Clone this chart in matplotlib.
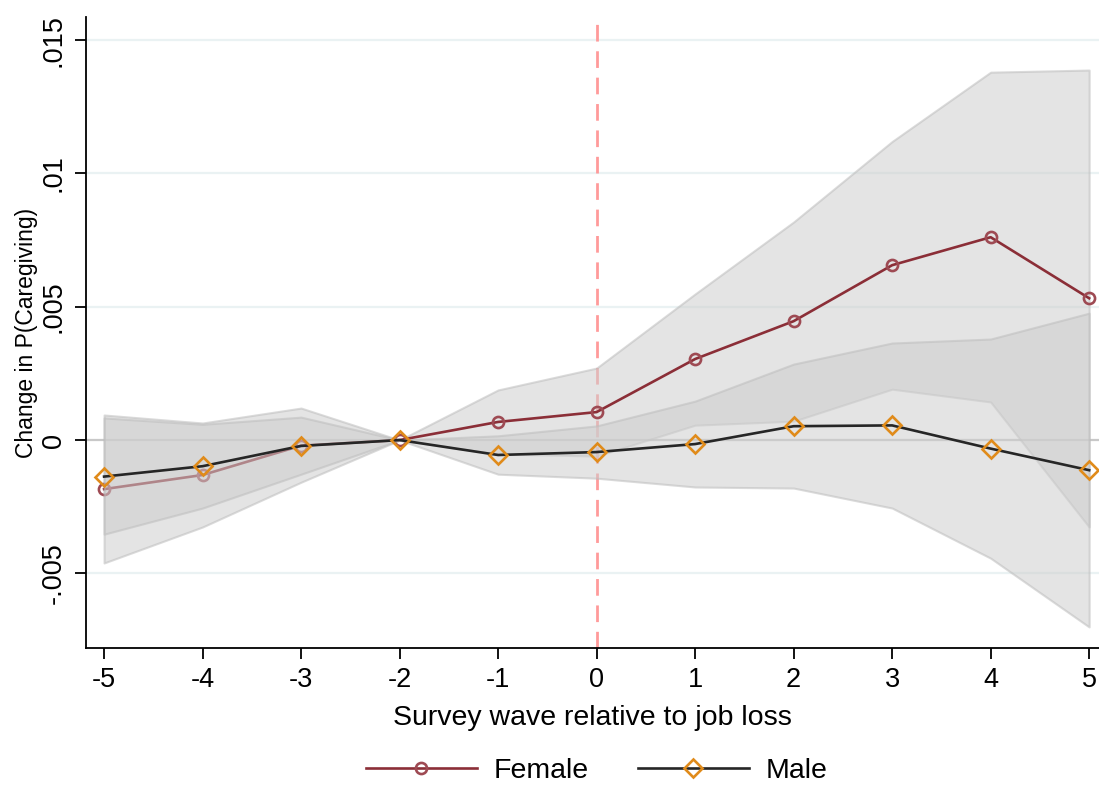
import matplotlib
matplotlib.use("Agg")
import matplotlib.pyplot as plt

plt.rcParams['font.family'] = ['Liberation Sans', 'DejaVu Sans']

# === Données ===
waves = [-5, -4, -3, -2, -1, 0, 1, 2, 3, 4, 5]

female = [-0.00184, -0.00131, -0.00021, 0.0, 0.00068, 0.00105, 0.00304, 0.00446, 0.00656, 0.00761, 0.00532]
female_lo = [-0.00461, -0.00326, -0.00158, 0.0, -0.00052, -0.00060, 0.00056, 0.00071, 0.00191, 0.00143, -0.00326]
female_hi = [0.00094, 0.00064, 0.00120, 0.0, 0.00188, 0.00270, 0.00548, 0.00818, 0.01120, 0.01380, 0.01388]

male = [-0.00137, -0.00098, -0.00022, 0.0, -0.00056, -0.00045, -0.00015, 0.00052, 0.00055, -0.00032, -0.00113]
male_lo = [-0.00353, -0.00255, -0.00128, 0.0, -0.00128, -0.00143, -0.00176, -0.00180, -0.00255, -0.00443, -0.00701]
male_hi = [0.00083, 0.00059, 0.00086, 0.0, 0.00016, 0.00053, 0.00146, 0.00285, 0.00364, 0.00379, 0.00476]

yticks = [-0.005, 0, 0.005, 0.01, 0.015]
ytick_labels = ["-.005", "0", ".005", ".01", ".015"]

# === Couleurs ===
C_FEMALE = "#8b2e37"
C_FEMALE_MK = "#9e4a53"
C_MALE = "#262626"
C_MALE_MK = "#e08b1a"
C_BAND = "#cecece"

fig = plt.figure(figsize=(10.99, 7.85), dpi=100)
ax = fig.add_axes([0.0783, 1 - 648 / 785, 0.9217, (648 - 17) / 785])

# grille horizontale + ligne zero + ligne verticale
for yv in yticks:
    if yv != 0:
        ax.axhline(yv, color="#eaf2f3", lw=1.6, zorder=0)
ax.axhline(0, color="#c8c8c8", lw=1.6, zorder=0.5)
ax.axvline(0, color="#ff9a9a", lw=2, ls=(0, (6, 3.5)), zorder=0.6)

# intervalles de confiance + lignes
ax.fill_between(waves, female_lo, female_hi, facecolor=C_BAND, alpha=0.55,
                edgecolor="#bdbdbd", lw=1.5, zorder=1)
ax.plot(waves, female, color=C_FEMALE, lw=1.9, marker="o", ms=8,
        mfc="none", mec=C_FEMALE_MK, mew=1.9, zorder=2, label="Female")
ax.fill_between(waves, male_lo, male_hi, facecolor=C_BAND, alpha=0.55,
                edgecolor="#bdbdbd", lw=1.5, zorder=3)
ax.plot(waves, male, color=C_MALE, lw=1.9, marker="D", ms=9,
        mfc="none", mec=C_MALE_MK, mew=1.9, zorder=4, label="Male")

ax.set_xlim(-5.183, 5.10)
ax.set_ylim(-0.0078, 0.01587)
ax.set_xticks(waves)
ax.set_xticklabels([str(w) for w in waves])
ax.set_yticks(yticks)
ax.set_yticklabels(ytick_labels, rotation=90, va="center")

ax.spines["top"].set_visible(False)
ax.spines["right"].set_visible(False)
ax.spines["left"].set_linewidth(1.3)
ax.spines["bottom"].set_linewidth(1.3)
ax.tick_params(axis="both", direction="out", length=8, width=1.3, labelsize=19.5, pad=6)

ax.set_xlabel("Survey wave relative to job loss", fontsize=20.5, labelpad=8)
ax.set_ylabel("Change in P(Caregiving)", fontsize=16.5, labelpad=2)

handles, labels = ax.get_legend_handles_labels()
fig.legend(handles, labels, loc="center", bbox_to_anchor=(0.543, 1 - 771 / 785),
           ncol=2, frameon=False, fontsize=20.5, handlelength=3.9,
           handletextpad=0.6, columnspacing=1.7, borderaxespad=0)

fig.savefig("out.png", dpi=100)
